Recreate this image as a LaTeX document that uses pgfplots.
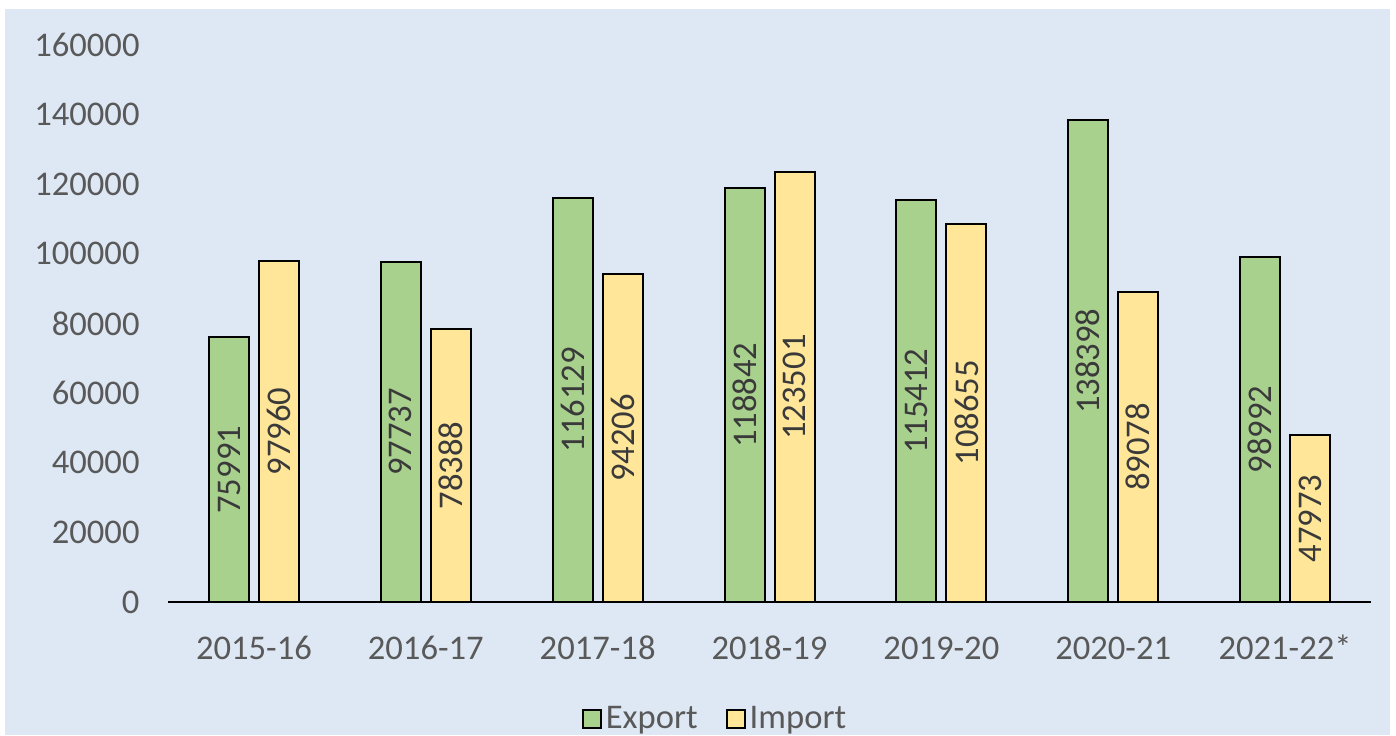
\documentclass[border=0pt]{standalone}
\usepackage{fontspec}
\setmainfont{Carlito}
\usepackage{pgfplots}
\pgfplotsset{compat=1.18}
\usepackage{pgfplotstable}
\definecolor{bg}{HTML}{DEE8F4}
\definecolor{expc}{HTML}{A9D18E}
\definecolor{impc}{HTML}{FFE699}
\definecolor{txt}{HTML}{595959}
\definecolor{lbl}{HTML}{3A3A3A}
\pgfplotstableread{
x export import
0 75991 97960
1 97737 78388
2 116129 94206
3 118842 123501
4 115412 108655
5 138398 89078
6 98992 47973
}\data
\begin{document}
\begin{tikzpicture}
\useasboundingbox (0pt,0pt) rectangle (698pt,367.5pt);
\fill[bg] (2.5pt,0pt) rectangle (695pt,363pt);
\begin{axis}[
  at={(84pt,66.5pt)}, anchor=south west,
  scale only axis, width=601.5pt, height=278.5pt,
  xmin=-0.5, xmax=6.5, ymin=0, ymax=160000,
  axis x line=bottom, axis y line=left,
  y axis line style={draw=none},
  x axis line style={-, line width=1pt, black},
  major tick length=0pt,
  xtick={0,...,6},
  xticklabels={2015-16,2016-17,2017-18,2018-19,2019-20,2020-21,2021-22*},
  ytick={0,20000,...,160000},
  scaled y ticks=false,
  /pgf/number format/.cd, fixed, 1000 sep={}, assume math mode=true, /pgfplots/.cd,
  tick label style={font=\fontsize{17.3}{20}\selectfont, text=txt},
  yticklabel style={xshift=-10.7pt},
  xticklabel style={yshift=-14pt, text height=11pt, text depth=2pt},
  clip=false,
  legend style={at={(0.4555,-0.21)}, anchor=center, draw=none, fill=none,
    legend columns=2, font=\fontsize{17.3}{20}\selectfont, text=txt,
    /tikz/every even column/.append style={column sep=12pt}},
]
\addplot[ybar, bar width=20pt, bar shift=-12.5pt, fill=expc, draw=black, line width=1pt,
  legend image code/.code={\draw[fill=expc, draw=black, line width=1pt] (0pt,-4.5pt) rectangle (9pt,4.5pt);}]
  table[x=x, y=export] {\data};
\addlegendentry{Export}
\addplot[ybar, bar width=20pt, bar shift=12.5pt, fill=impc, draw=black, line width=1pt,
  legend image code/.code={\draw[fill=impc, draw=black, line width=1pt] (0pt,-4.5pt) rectangle (9pt,4.5pt);}]
  table[x=x, y=import] {\data};
\addlegendentry{Import}
\addplot[only marks, mark=none, forget plot, nodes near coords, point meta=explicit symbolic,
  every node near coord/.style={rotate=90, anchor=center, font=\fontsize{17.3}{20}\selectfont, text=lbl}]
  table[x expr=\thisrow{x}-0.14547, y expr=\thisrow{export}/2, meta=export] {\data};
\addplot[only marks, mark=none, forget plot, nodes near coords, point meta=explicit symbolic,
  every node near coord/.style={rotate=90, anchor=center, font=\fontsize{17.3}{20}\selectfont, text=lbl}]
  table[x expr=\thisrow{x}+0.14547, y expr=\thisrow{import}/2, meta=import] {\data};
\end{axis}
\end{tikzpicture}
\end{document}
